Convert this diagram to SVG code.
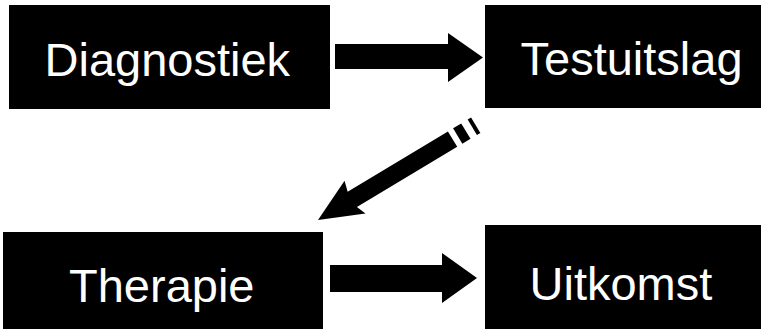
<svg xmlns="http://www.w3.org/2000/svg" width="761" height="329" viewBox="0 0 761 329">
<style>
.box{fill:#000}
.lbl{fill:#fff;font-family:"Liberation Sans",Arial,sans-serif;font-size:47px}
.arr{fill:#000}
</style>
<rect width="761" height="329" fill="#fff"/>
<g id="diagnostiek"><rect class="box" x="9" y="5" width="321" height="104"/><text class="lbl" x="44.5" y="76">Diagnostiek</text></g>
<g id="testuitslag"><rect class="box" x="485" y="5" width="276" height="103"/><text class="lbl" x="520.5" y="75">Testuitslag</text></g>
<g id="therapie"><rect class="box" x="3" y="232" width="320" height="97"/><text class="lbl" x="69" y="302">Therapie</text></g>
<g id="uitkomst"><rect class="box" x="485" y="225" width="276" height="104"/><text class="lbl" x="529.5" y="300">Uitkomst</text></g>
<g id="connectors">
<polygon class="arr" points="335,44 448,44 448,33 483,57.5 448,82 448,69 335,69"/>
<polygon class="arr" points="330,265 442,265 442,253 477,278 442,303 442,292 330,292"/>
<g transform="translate(318,220) rotate(-31)">
<polygon class="arr" points="0,0 43,-20 40,-9 157,-9 157,9 40,9 44,19"/>
<rect class="arr" x="163" y="-9" width="9.5" height="18"/>
<rect class="arr" x="180" y="-9" width="4" height="18"/>
</g>
</g>
</svg>
